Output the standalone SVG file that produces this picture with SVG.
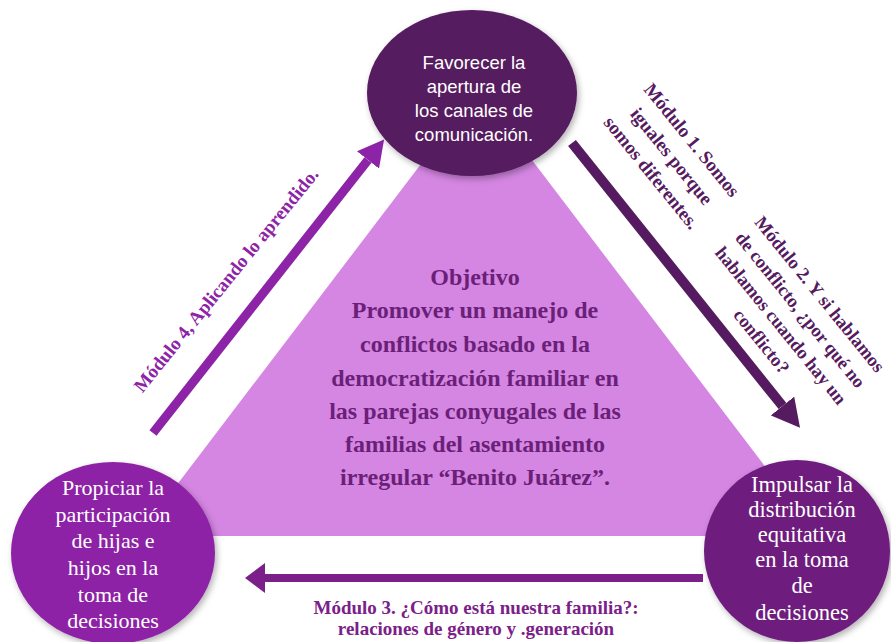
<svg xmlns="http://www.w3.org/2000/svg" width="891" height="642" viewBox="0 0 891 642">
<defs>
<style>
.sans{font-family:"Liberation Sans",Arial,sans-serif;}
.serif{font-family:"Liberation Serif","Times New Roman",serif;}
.ctext{fill:#ffffff;text-anchor:middle;}
.obj{font-family:"Liberation Serif","Times New Roman",serif;font-weight:bold;font-size:24px;fill:#6B1F78;text-anchor:middle;}
.mod{font-family:"Liberation Serif","Times New Roman",serif;font-weight:bold;font-size:19px;text-anchor:middle;}
</style>
<filter id="sh" x="-20%" y="-20%" width="140%" height="140%">
<feDropShadow dx="2" dy="3" stdDeviation="3" flood-color="#000" flood-opacity="0.3"/>
</filter>
<marker id="hDark" markerUnits="userSpaceOnUse" markerWidth="28" markerHeight="30" viewBox="0 0 28 30" refX="0" refY="15" orient="auto">
<path d="M0,0 L28,15 L0,30 z" fill="#561A60"/>
</marker>
<marker id="hMed" markerUnits="userSpaceOnUse" markerWidth="26" markerHeight="28" viewBox="0 0 26 28" refX="0" refY="14" orient="auto">
<path d="M0,0 L26,14 L0,28 z" fill="#8D23A6"/>
</marker>
<marker id="hBot" markerUnits="userSpaceOnUse" markerWidth="20" markerHeight="30" viewBox="0 0 20 30" refX="0" refY="15" orient="auto">
<path d="M0,0 L20,15 L0,30 z" fill="#7B2089"/>
</marker>
</defs>
<rect width="891" height="642" fill="#ffffff"/>

<g id="objetivo">
<polygon points="478,89 818,536 138,536" fill="#D486E2"/>
<text class="obj" x="475" y="285">Objetivo</text>
<text class="obj" x="475" y="318">Promover un manejo de</text>
<text class="obj" x="475" y="352">conflictos basado en la</text>
<text class="obj" x="475" y="386">democratización familiar en</text>
<text class="obj" x="475" y="419">las parejas conyugales de las</text>
<text class="obj" x="475" y="452">familias del asentamiento</text>
<text class="obj" x="475" y="485">irregular “Benito Juárez”.</text>
</g>

<g id="connectors">
<line x1="153" y1="433" x2="368" y2="160" stroke="#8D23A6" stroke-width="9" marker-end="url(#hMed)"/>
<line x1="572" y1="143" x2="782.5" y2="406" stroke="#561A60" stroke-width="10" marker-end="url(#hDark)"/>
<line x1="703" y1="578" x2="265" y2="578" stroke="#7B2089" stroke-width="8" marker-end="url(#hBot)"/>
<g transform="translate(687,144) rotate(51)" fill="#561A60">
<text class="mod" x="0" y="0">Módulo 1. Somos</text>
<text class="mod" x="0" y="26">iguales porque</text>
<text class="mod" x="0" y="52">somos diferentes.</text>
</g>
<g transform="translate(815,298) rotate(51)" fill="#561A60" font-size="18.5">
<text class="mod" x="0" y="0" style="font-size:18.5px">Módulo 2. Y si hablamos</text>
<text class="mod" x="0" y="25" style="font-size:18.5px">de conflicto, ¿por qué no</text>
<text class="mod" x="0" y="50" style="font-size:18.5px">hablamos cuando hay un</text>
<text class="mod" x="0" y="75" style="font-size:18.5px">conflicto?</text>
</g>
<g transform="translate(231,284) rotate(-51)" fill="#8D23A6">
<text class="mod" x="0" y="0">Módulo 4, Aplicando lo aprendido.</text>
</g>
<g fill="#7B2089">
<text class="mod" x="476" y="614">Módulo 3. ¿Cómo está nuestra familia?:</text>
<text class="mod" x="476" y="635">relaciones de género y .generación</text>
</g>
</g>

<g id="favorecer">
<ellipse cx="472" cy="93" rx="105" ry="83" fill="#561A60" filter="url(#sh)"/>
<g class="sans ctext" font-size="18.5">
<text x="474" y="69">Favorecer la</text>
<text x="474" y="93">apertura de</text>
<text x="474" y="117">los canales de</text>
<text x="474" y="141">comunicación.</text>
</g>
</g>

<g id="propiciar">
<ellipse cx="113" cy="553" rx="102" ry="91" fill="#8D23A6" filter="url(#sh)"/>
<g class="serif ctext" font-size="22">
<text x="113" y="495">Propiciar la</text>
<text x="113" y="522">participación</text>
<text x="113" y="548">de hijas e</text>
<text x="113" y="575">hijos en la</text>
<text x="113" y="602">toma de</text>
<text x="113" y="628">decisiones</text>
</g>
</g>

<g id="impulsar">
<ellipse cx="797" cy="551" rx="93" ry="91" fill="#6E1F7D" filter="url(#sh)"/>
<g class="serif ctext" font-size="22.5">
<text x="802" y="492">Impulsar la</text>
<text x="802" y="517">distribución</text>
<text x="802" y="542">equitativa</text>
<text x="802" y="567">en la toma</text>
<text x="802" y="593">de</text>
<text x="802" y="620">decisiones</text>
</g>
</g>
</svg>
